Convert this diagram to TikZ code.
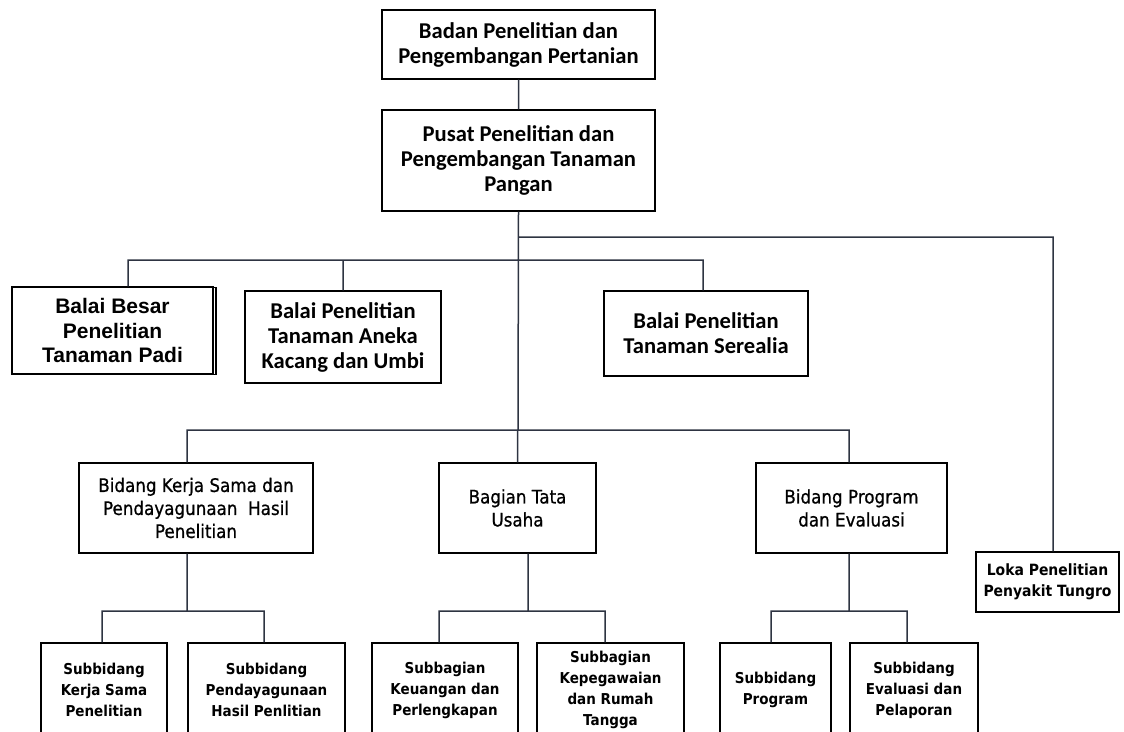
\documentclass[tikz,border=0pt]{standalone}
\usepackage{fontspec}
\setmainfont{Carlito}
\newfontfamily\arialfont{Liberation Sans}
\newfontfamily\tahomafont{DejaVu Sans}[FakeStretch=0.9]
\newfontfamily\tahomamid{DejaVu Sans}[FakeStretch=0.9, FakeBold=0.8]
\usetikzlibrary{shadows}
\definecolor{linkcol}{HTML}{2E3442}

\begin{document}
\begin{tikzpicture}[x=1pt,y=-1pt,
	box/.style={draw=black, line width=1.4pt, fill=white, align=center, inner sep=0pt},
	wh/.style 2 args={minimum width=#1pt, minimum height=#2pt},
	topbox/.style={box, font=\bfseries\fontsize{22.6}{25}\selectfont},
	bidbox/.style={box, font=\tahomamid\fontsize{18.6}{23}\selectfont},
	subbox/.style={box, wh={#1}{94}, font=\tahomafont\bfseries\fontsize{15}{21}\selectfont},
	link/.style={draw=linkcol, line width=1.5pt}]
	\useasboundingbox (0,0) rectangle (1124,731);
	
	\path (518.5,44.5) node[topbox, wh={273}{69}] (badan) {Badan Penelitian dan\\Pengembangan Pertanian}
	(518.5,160.5) node[topbox, wh={273}{101}] (pusat) {Pusat Penelitian dan\\Pengembangan Tanaman\\Pangan}
	(112.5,330.5) node[box, wh={201}{87}, copy shadow={shadow xshift=3pt, shadow yshift=-0.5pt},
		font=\arialfont\bfseries\fontsize{21}{24.5}\selectfont] (padi) {Balai Besar\\Penelitian\\Tanaman Padi}
	(343,337) node[topbox, wh={196}{92}] (aneka) {Balai Penelitian\\Tanaman Aneka\\Kacang dan Umbi}
	(706,333.5) node[topbox, wh={204}{85}] (serealia) {Balai Penelitian\\Tanaman Serealia}
	(196,508) node[bidbox, wh={234}{90}] (kerja) {Bidang Kerja Sama dan\\Pendayagunaan~ Hasil\\Penelitian}
	(517.5,508) node[bidbox, wh={157}{90}] (bagian) {Bagian Tata\\Usaha}
	(851.5,508) node[bidbox, wh={191}{90}] (program) {Bidang Program\\dan Evaluasi}
	(1047.5,582) node[box, wh={143}{60}, font=\tahomafont\bfseries\fontsize{15.5}{21}\selectfont] (loka) {Loka Penelitian\\Penyakit Tungro}
	(104,690) node[subbox=126] (subkerja) {Subbidang\\Kerja Sama\\Penelitian}
	(266.5,690) node[subbox=157] (subdaya) {Subbidang\\Pendayagunaan\\Hasil Penlitian}
	(445,690) node[subbox=146] (subkeu) {Subbagian\\Keuangan dan\\Perlengkapan}
	(610.5,690) node[subbox=147] (subpeg) {Subbagian\\Kepegawaian\\dan Rumah\\Tangga}
	(775.5,690) node[subbox=111] (subprog) {Subbidang\\Program}
	(914,690) node[subbox=128] (subeval) {Subbidang\\Evaluasi dan\\Pelaporan};
	
	\draw[link] (badan) -- (pusat)
	(pusat.south) -- (518,430)
	(518,237) -| (loka.north -| 1053,0)
	(padi.north -| 128,0) |- (518,260) -| (serealia.north -| 703,0)
	(aneka) -- (aneka |- 0,260)
	(kerja.north -| 187,0) |- (518,430) -| (program.north -| 849,0)
	(bagian) -- (bagian |- 0,430)
	(kerja.south -| 187,0) -- (187,611)
	(subkerja.north -| 102,0) |- (187,611) -| (subdaya.north -| 264,0)
	(bagian.south -| 528,0) -- (528,611)
	(subkeu.north -| 439,0) |- (528,611) -| (subpeg.north -| 605,0)
	(program.south -| 849,0) -- (849,611)
	(subprog.north -| 771,0) |- (849,611) -| (subeval.north -| 907,0);
\end{tikzpicture}
\end{document}
